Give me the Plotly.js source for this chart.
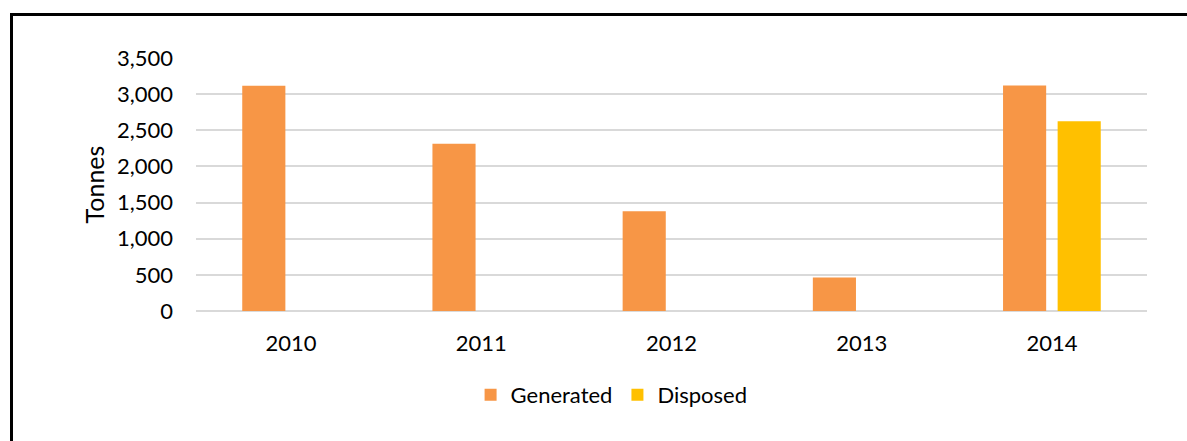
<!DOCTYPE html>
<html>
<head>
<meta charset="utf-8">
<script src="https://cdn.plot.ly/plotly-3.0.1.min.js"></script>
<style>
  html, body { margin: 0; padding: 0; overflow: hidden; background: #fff; }
  #chart { position: absolute; left: 0; top: 0; width: 1187px; height: 441px; }
  #frame { position: absolute; left: 10px; top: 13px; width: 1200px; height: 460px;
           border-left: 3px solid #000; border-top: 3px solid #000; pointer-events: none; }
</style>
</head>
<body>
<div id="chart"></div>
<div id="frame"></div>
<script>
const years = ['2010', '2011', '2012', '2013', '2014'];
const generated = [3115, 2315, 1380, 465, 3120];
const disposed = [null, null, null, null, 2625];
const seriesNames = ['Generated', 'Disposed'];
const yTicks = [0, 500, 1000, 1500, 2000, 2500, 3000, 3500];
const yTickText = ['0', '500', '1,000', '1,500', '2,000', '2,500', '3,000', '3,500'];

const font = 'Lato, "Open Sans", sans-serif';

const data = [
  { type: 'bar', name: seriesNames[0], x: years, y: generated,
    marker: { color: '#F79646', line: { width: 0 } } },
  { type: 'bar', name: seriesNames[1], x: years, y: disposed,
    marker: { color: '#FFC000', line: { width: 0 } } }
];

const layout = {
  width: 1187, height: 441,
  margin: { l: 196, r: 40, t: 58, b: 130 },
  paper_bgcolor: '#fff', plot_bgcolor: '#fff',
  font: { family: font, size: 22, color: '#000' },
  barmode: 'group',
  bargap: 0.426,
  bargroupgap: 0.21,
  showlegend: true,
  legend: {
    orientation: 'h', x: 0.437, xanchor: 'center', xref: 'paper',
    y: -0.332, yref: 'paper', yanchor: 'middle',
    font: { family: font, size: 22, color: '#000' },
    itemwidth: 30, tracegroupgap: 0
  },
  xaxis: {
    type: 'category', showgrid: false, zeroline: false,
    showline: false, ticks: '', ticklabelstandoff: 17,
    tickfont: { family: font, size: 22, color: '#000' },
    fixedrange: true
  },
  yaxis: {
    range: [0, 3500], tickvals: yTicks, ticktext: yTickText,
    showgrid: true, gridcolor: '#D9D9D9', gridwidth: 2,
    zeroline: true, zerolinecolor: '#D9D9D9', zerolinewidth: 2,
    showline: false, ticks: '', ticklabelstandoff: 22,
    tickfont: { family: font, size: 22, color: '#000' },
    title: { text: 'Tonnes', standoff: 5, font: { family: font, size: 25, color: '#000' } },
    automargin: false, fixedrange: true
  }
};

Plotly.newPlot('chart', data, layout, { displayModeBar: false, staticPlot: true });
</script>
</body>
</html>
